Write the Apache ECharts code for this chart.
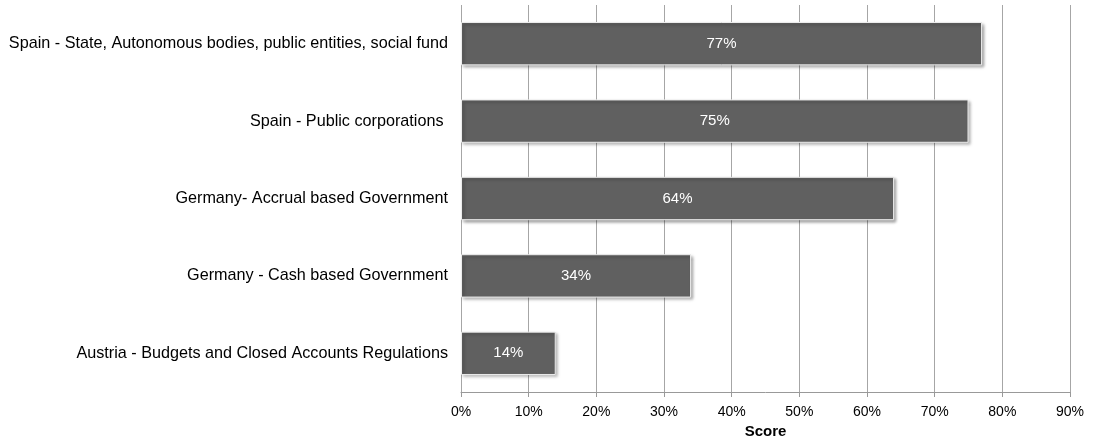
<!DOCTYPE html>
<html>
<head>
<meta charset="utf-8">
<script src="https://cdn.jsdelivr.net/npm/echarts@6/dist/echarts.min.js"></script>
<style>
  html, body { margin: 0; padding: 0; background: #fff; }
  #chart { width: 1101px; height: 443px; }
</style>
</head>
<body>
<div id="chart"></div>
<script>
// Categories listed bottom to top (category axis on y starts at the bottom)
const categories = [
  'Austria - Budgets and Closed Accounts Regulations',
  'Germany - Cash based Government',
  'Germany- Accrual based Government',
  'Spain - Public corporations ',
  'Spain - State, Autonomous bodies, public entities, social fund'
];
const scores = [14, 34, 64, 75, 77];
const xTicks = [0, 10, 20, 30, 40, 50, 60, 70, 80, 90];

const font = '"Liberation Sans", Arial, sans-serif';
const chart = echarts.init(document.getElementById('chart'), null, { renderer: 'canvas' });

chart.setOption({
  animation: false,
  grid: { left: 461, right: 31, top: 5, bottom: 51, containLabel: false, outerBoundsMode: 'none' },
  xAxis: {
    type: 'value',
    min: xTicks[0],
    max: xTicks[xTicks.length - 1],
    interval: 10,
    name: 'Score',
    nameLocation: 'middle',
    nameGap: 31,
    nameTextStyle: { fontFamily: font, fontSize: 15, fontWeight: 'bold', color: '#000' },
    axisLine: { show: true, lineStyle: { color: '#999', width: 1 } },
    axisTick: { show: true, length: 5, lineStyle: { color: '#999' } },
    axisLabel: { fontFamily: font, fontSize: 14, color: '#000', margin: 13, formatter: v => v + '%' },
    splitLine: { show: true, lineStyle: { color: '#a6a6a6', width: 1 } }
  },
  yAxis: {
    type: 'category',
    data: categories,
    axisLine: { show: false },
    axisTick: { show: false },
    axisLabel: { fontFamily: font, fontSize: 16.2, color: '#000', margin: 13 }
  },
  series: [{
    type: 'bar',
    data: scores,
    barWidth: '56%',
    itemStyle: {
      color: '#606060',
      borderColor: '#ececec',
      borderWidth: 1,
      shadowColor: 'rgba(0,0,0,0.35)',
      shadowBlur: 3,
      shadowOffsetX: 2,
      shadowOffsetY: 2
    },
    label: {
      show: true,
      position: 'inside',
      fontFamily: font,
      fontSize: 15,
      color: '#fff',
      formatter: p => p.value + '%'
    }
  }]
});
</script>
</body>
</html>
